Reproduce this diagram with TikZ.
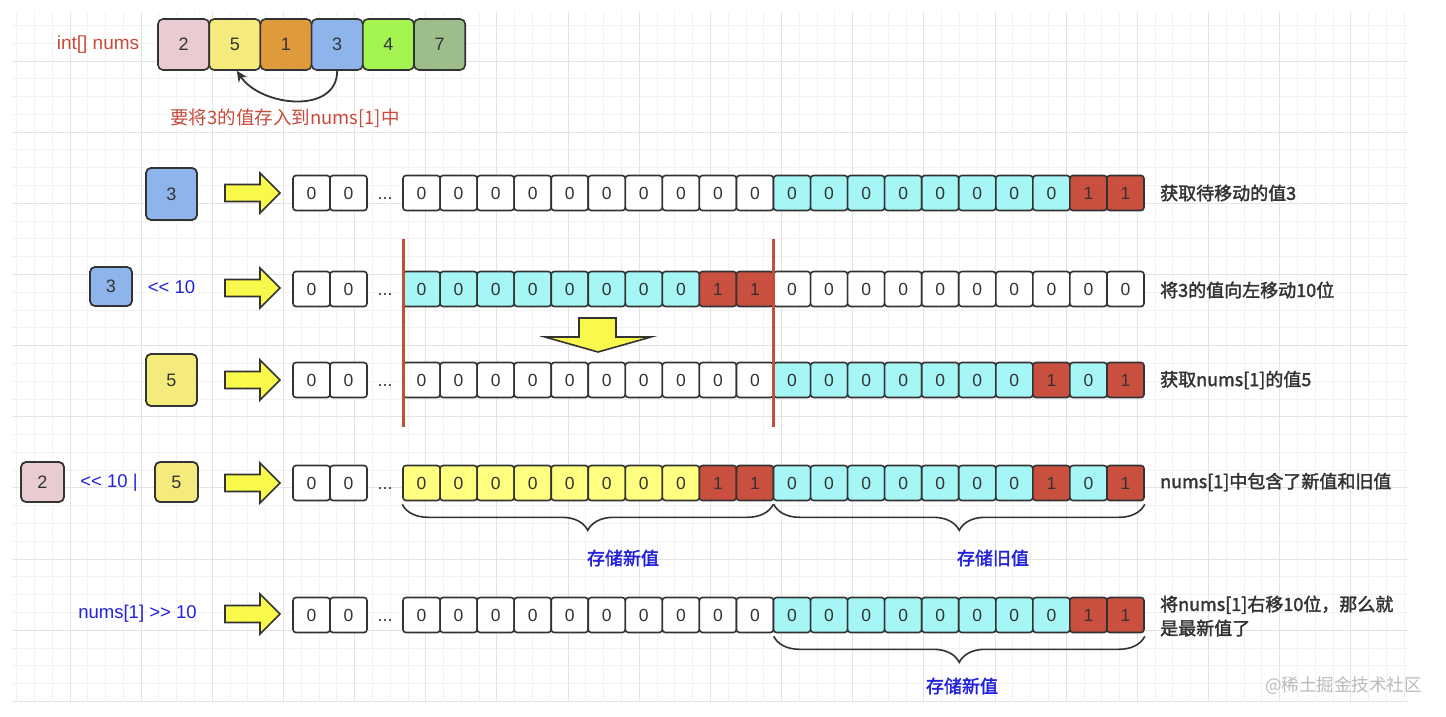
\documentclass[tikz,border=0pt]{standalone}
\usepackage{fontspec}
\setmainfont{Noto Sans CJK SC}
\newfontfamily\cjkm{Noto Sans CJK SC}[FakeBold=2]
\newfontfamily\lat{Liberation Sans}
\usetikzlibrary{decorations.pathreplacing,arrows.meta}
\definecolor{dk}{HTML}{333333}
\definecolor{rt}{HTML}{C94A3B}
\definecolor{bl}{HTML}{2222DD}
\definecolor{cW}{HTML}{FFFFFF}
\definecolor{cC}{HTML}{A6F6F6}
\definecolor{cR}{HTML}{C9503E}
\definecolor{cY}{HTML}{FFFF80}
\definecolor{ay}{HTML}{F9F94B}
\definecolor{pk}{HTML}{E8CCD2}
\definecolor{yl}{HTML}{F5EA7C}
\definecolor{org}{HTML}{DF9A3C}
\definecolor{blu}{HTML}{8EB4EC}
\definecolor{grn}{HTML}{A4F452}
\definecolor{sag}{HTML}{9DBE8A}
\definecolor{rl}{HTML}{C24E3C}
\definecolor{gmin}{HTML}{F2F2F2}
\definecolor{gmaj}{HTML}{E3E3E3}
\newcommand\bitrow[3]{%
  \node[cell,fill=white] (#1a) at (311.5,#2) {0};
  \node[cell,fill=white] (#1b) at (348.5,#2) {0};
  \node[dots] (#1d) at (385,#2+6.5) {...};
  \foreach \c/\d [count=\i] in {#3} {\node[cell,fill=\c] (#1c\i) at ({403+37.05*(\i-0.5)},#2) {\d};}
}
\newcommand\yarr[1]{%
  \path[yarrow] (225,#1) ++(0,-8.5) -- ++(35,0) -- ++(0,-11.5) -- ++(20,20) -- ++(-20,20) -- ++(0,-11.5) -- ++(-35,0) -- cycle;
}
\begin{document}
\begin{tikzpicture}[x=1pt,y=-1pt,
  cell/.style={draw=dk, line width=1.6pt, rounded corners=3pt, minimum width=37.05pt, minimum height=35pt, inner sep=0pt, text=dk, font=\lat\fontsize{17.5}{17.5}\selectfont},
  topcell/.style={cell, minimum width=51.2pt, minimum height=51pt, rounded corners=5pt, font=\lat\fontsize{18}{18}\selectfont},
  box/.style={draw=dk, line width=1.8pt, rounded corners=5pt, inner sep=0pt, text=dk, font=\lat\fontsize{18}{18}\selectfont},
  dots/.style={anchor=base, inner sep=0pt, text=dk, font=\lat\fontsize{18}{18}\selectfont},
  yarrow/.style={draw=dk, line width=1.6pt, fill=ay, line join=miter},
  bluetxt/.style={text=bl, font=\lat\fontsize{18.5}{18.5}\selectfont, inner sep=0pt},
  note/.style={anchor=west, text=dk, font=\cjkm\fontsize{18}{24}\selectfont, inner sep=0pt, align=left},
  bracelbl/.style={text=bl, font=\cjkm\fontsize{18}{18}\selectfont, inner sep=0pt},
  brace/.style={draw=dk, line width=1.6pt, decorate, decoration={brace, amplitude=26pt}},
  redline/.style={draw=rl, line width=3pt},
  gridminor/.style={draw=gmin, line width=1pt},
  gridmajor/.style={draw=gmaj, line width=1pt}
]
\useasboundingbox[fill=white] (0,0) rectangle (1446,716);
% grid
\foreach \k in {-3,...,75} \draw[gridminor] ({70+17.79*\k},12) -- ({70+17.79*\k},702);
\foreach \k in {-2,...,36} \draw[gridminor] (12,{61+17.79*\k}) -- (1408,{61+17.79*\k});
\foreach \k in {0,4,...,72} \draw[gridmajor] ({70+17.79*\k},12) -- ({70+17.79*\k},702);
\foreach \k in {0,4,...,36} \draw[gridmajor] (12,{61+17.79*\k}) -- (1408,{61+17.79*\k});

% top array
\node[text=rt, font=\lat\fontsize{19}{19}\selectfont, inner sep=0pt] (lbl) at (98,44.5) {int[] nums};
\foreach \c/\d [count=\i] in {pk/2, yl/5, org/1, blu/3, grn/4, sag/7}
  \node[topcell, fill=\c] (t\i) at ({158+51.2*(\i-0.5)},44.5) {\d};
\draw[dk, line width=1.8pt, -{Stealth[length=11pt,width=10pt]}] (t4.south) .. controls +(0,44) and +(24,36) .. ([xshift=2pt]t2.south);
\node[text=rt, font=\fontsize{18.5}{18.5}\selectfont, inner sep=0pt] (mv) at (285,118) {要将3的值存入到nums[1]中};

% row 1
\node[box, fill=blu, minimum width=51pt, minimum height=52pt] (b1) at (171.5,194) {3};
\yarr{193}
\bitrow{ra}{193}{cW/0,cW/0,cW/0,cW/0,cW/0,cW/0,cW/0,cW/0,cW/0,cW/0,cC/0,cC/0,cC/0,cC/0,cC/0,cC/0,cC/0,cC/0,cR/1,cR/1}
\node[note] (n1) at (1160,193) {获取待移动的值3};

% row 2
\node[box, fill=blu, minimum width=42pt, minimum height=39pt] (b2) at (111,286.5) {3};
\node[bluetxt] (s2) at (171.5,287) {<{}< 10};
\yarr{288}
\bitrow{rb}{289}{cC/0,cC/0,cC/0,cC/0,cC/0,cC/0,cC/0,cC/0,cR/1,cR/1,cW/0,cW/0,cW/0,cW/0,cW/0,cW/0,cW/0,cW/0,cW/0,cW/0}
\node[note] (n2) at (1160,290) {将3的值向左移动10位};

% down arrow
\path[yarrow] (579,318) -- (616,318) -- (616,337) -- (651,337) -- (598,352) -- (545,337) -- (579,337) -- cycle;

% row 3
\node[box, fill=yl, minimum width=51pt, minimum height=52pt] (b3) at (171.5,380) {5};
\yarr{380}
\bitrow{rc}{380}{cW/0,cW/0,cW/0,cW/0,cW/0,cW/0,cW/0,cW/0,cW/0,cW/0,cC/0,cC/0,cC/0,cC/0,cC/0,cC/0,cC/0,cR/1,cC/0,cR/1}
\node[note] (n3) at (1160,380) {获取nums[1]的值5};

% red lines
\draw[redline] (403,239) -- (403,427);
\draw[redline] (773,239) -- (773,427);

% row 4
\node[box, fill=pk, minimum width=43pt, minimum height=40pt] (b4a) at (42.5,482) {2};
\node[bluetxt] (s4) at (109,483) {<{}< 10 |};
\node[box, fill=yl, minimum width=43pt, minimum height=40pt] (b4b) at (176.5,482) {5};
\yarr{483}
\bitrow{rd}{483}{cY/0,cY/0,cY/0,cY/0,cY/0,cY/0,cY/0,cY/0,cR/1,cR/1,cC/0,cC/0,cC/0,cC/0,cC/0,cC/0,cC/0,cR/1,cC/0,cR/1}
\node[note] (n4) at (1160,482) {nums[1]中包含了新值和旧值};
\draw[brace] ([xshift=-1pt,yshift=-3pt]rdc10.south east) -- ([yshift=-3pt]rdc1.south west);
\draw[brace] ([yshift=-3pt]rdc20.south east) -- ([xshift=1pt,yshift=-3pt]rdc11.south west);
\node[bracelbl] (l1) at (623,558) {存储新值};
\node[bracelbl] (l2) at (993,558) {存储旧值};

% row 5
\node[bluetxt] (s5) at (137.5,614) {nums[1] >{}> 10};
\yarr{614}
\bitrow{re}{615}{cW/0,cW/0,cW/0,cW/0,cW/0,cW/0,cW/0,cW/0,cW/0,cW/0,cC/0,cC/0,cC/0,cC/0,cC/0,cC/0,cC/0,cC/0,cR/1,cR/1}
\node[note] (n5) at (1160,616) {将nums[1]右移10位，那么就\\是最新值了};
\draw[brace] ([yshift=-3pt]rec20.south east) -- ([xshift=1pt,yshift=-3pt]rec11.south west);
\node[bracelbl] (l3) at (962,686) {存储新值};

% watermark
\node[anchor=west, text=black!27, font=\fontsize{17.5}{17.5}\selectfont, inner sep=0pt] (wm) at (1265,686) {@稀土掘金技术社区};
\end{tikzpicture}
\end{document}
